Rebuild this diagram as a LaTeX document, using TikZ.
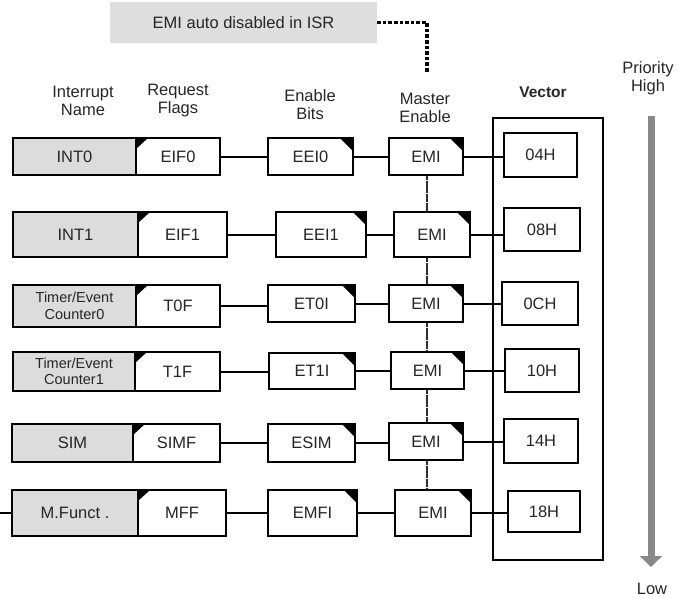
\documentclass[tikz,border=0pt]{standalone}
\usepackage{fontspec}
\setmainfont{Liberation Sans}
\usetikzlibrary{arrows.meta}
\definecolor{boxgray}{HTML}{DCDCDC}
\definecolor{notegray}{HTML}{DEDEDE}
\definecolor{arrowgray}{HTML}{888888}
\definecolor{txt}{HTML}{262626}
\definecolor{chain}{HTML}{2E2E2E}
\begin{document}
\begin{tikzpicture}[x=1pt,y=-1pt,
  font=\fontsize{16.5}{18}\selectfont, text=txt,
  box/.style={draw=black, line width=2.2pt, inner sep=0pt, anchor=center},
  namebox/.style={box, fill=boxgray},
  flagbox/.style={box, fill=white, path picture={\fill[black] (path picture bounding box.north west) -- ([xshift=12pt]path picture bounding box.north west) -- ([yshift=-11pt]path picture bounding box.north west) -- cycle;}},
  enbox/.style={box, fill=white, path picture={\fill[black] (path picture bounding box.north east) -- ([xshift=-13pt]path picture bounding box.north east) -- ([yshift=-13pt]path picture bounding box.north east) -- cycle;}},
  vbox/.style={box},
  frame/.style={box, line width=2pt},
  link/.style={line width=2pt},
  emilink/.style={line width=2.4pt, draw=chain, dash pattern=on 4pt off 0.4pt},
  notelink/.style={line width=3.6pt, draw=black, dash pattern=on 3.6pt off 2pt},
  head/.style={align=center, inner sep=0pt, font=\fontsize{16.5}{18}\selectfont},
  small/.style={align=center, font=\fontsize{14.5}{16.5}\selectfont}
]
\useasboundingbox (0,0) rectangle (683,598);

% note
\node[fill=notegray, minimum width=267pt, minimum height=41pt, inner sep=0pt] (note) at (243.5,22.5) {EMI auto disabled in ISR};
\coordinate (mtop) at (427,72);
\draw[notelink] (note.east) -| (mtop);

% headers
\node[head] (h1) at (83,101) {Interrupt\\Name};
\node[head] (h2) at (178,101) {Request\\Flags};
\node[head] (h3) at (310,105) {Enable\\Bits};
\node[head] (h4) at (425,108) {Master\\Enable};
\node[inner sep=0pt, font=\fontsize{15.5}{18}\selectfont\bfseries] (h5) at (543,92) {Vector};
\node[head] (h6) at (648,78) {Priority\\High};
\node[inner sep=0pt] (low) at (652,589) {Low};

% priority arrow
\coordinate (atop) at (651,116);
\coordinate (abot) at (651,567);
\draw[arrowgray, line width=7pt, -{Triangle[width=22pt,length=11pt]}] (atop) -- (abot);

% vector frame
\node[frame, minimum width=110pt, minimum height=442pt] (vec) at (547.5,339) {};

% row 1
\node[namebox, minimum width=123pt, minimum height=37pt] (n1) at (74.5,156.5) {INT0};
\node[flagbox, minimum width=84pt, minimum height=37pt] (f1) at (178,156.5) {EIF0};
\node[enbox, minimum width=85pt, minimum height=37pt] (e1) at (310.5,156.5) {EEI0};
\node[enbox, minimum width=74pt, minimum height=37pt] (m1) at (426,156.5) {EMI};
\node[vbox, minimum width=73pt, minimum height=44pt] (v1) at (540.5,155) {04H};

% row 2
\node[namebox, minimum width=125pt, minimum height=45pt] (n2) at (75.5,234.5) {INT1};
\node[flagbox, minimum width=89pt, minimum height=45pt] (f2) at (182.5,234.5) {EIF1};
\node[enbox, minimum width=90pt, minimum height=45pt] (e2) at (321,234.5) {EEI1};
\node[enbox, minimum width=76pt, minimum height=45pt] (m2) at (432,234.5) {EMI};
\node[vbox, minimum width=76pt, minimum height=43pt] (v2) at (542,229.5) {08H};

% row 3
\node[namebox, small, minimum width=123pt, minimum height=42pt] (n3) at (74.5,306) {Timer/Event\\Counter0};
\node[flagbox, minimum width=84pt, minimum height=42pt] (f3) at (178,306) {T0F};
\node[enbox, minimum width=87pt, minimum height=37pt] (e3) at (311.5,303.5) {ET0I};
\node[enbox, minimum width=74pt, minimum height=37pt] (m3) at (426,303.5) {EMI};
\node[vbox, minimum width=76pt, minimum height=43pt] (v3) at (540,303.5) {0CH};

% row 4
\node[namebox, small, minimum width=122pt, minimum height=39pt] (n4) at (74,371.5) {Timer/Event\\Counter1};
\node[flagbox, minimum width=85pt, minimum height=39pt] (f4) at (177.5,371.5) {T1F};
\node[enbox, minimum width=86pt, minimum height=36pt] (e4) at (312,371) {ET1I};
\node[enbox, minimum width=73pt, minimum height=37pt] (m4) at (427.5,370.5) {EMI};
\node[vbox, minimum width=74pt, minimum height=43pt] (v4) at (542,370.5) {10H};

% row 5
\node[namebox, minimum width=121pt, minimum height=38pt] (n5) at (72.5,443) {SIM};
\node[flagbox, minimum width=87pt, minimum height=38pt] (f5) at (176.5,443) {SIMF};
\node[enbox, minimum width=87pt, minimum height=38pt] (e5) at (311.5,443) {ESIM};
\node[enbox, minimum width=74pt, minimum height=37pt] (m5) at (426,441.5) {EMI};
\node[vbox, minimum width=74pt, minimum height=44pt] (v5) at (541,441) {14H};

% row 6
\node[namebox, minimum width=126pt, minimum height=46pt] (n6) at (75,513) {M.Funct .};
\node[flagbox, minimum width=88pt, minimum height=46pt] (f6) at (182,513) {MFF};
\node[enbox, minimum width=89pt, minimum height=46pt] (e6) at (312.5,513) {EMFI};
\node[enbox, minimum width=76pt, minimum height=46pt] (m6) at (433,513) {EMI};
\node[vbox, minimum width=72pt, minimum height=41pt] (v6) at (544,511.5) {18H};
\coordinate (in6) at (0,513);
\draw[link] (in6) -- (n6.west);

% horizontal connectors
\foreach \i in {1,...,6}{
  \draw[link] (f\i.east) -- (f\i.east -| e\i.west);
  \draw[link] (e\i.east) -- (e\i.east -| m\i.west);
  \draw[link] (m\i.east) -- (m\i.east -| v\i.west);
}

% EMI chain
\coordinate (lx) at (427,0);
\foreach \i/\j in {1/2,2/3,3/4,4/5,5/6}{
  \draw[emilink] (lx |- m\i.south) -- (lx |- m\j.north);
}
\end{tikzpicture}
\end{document}
